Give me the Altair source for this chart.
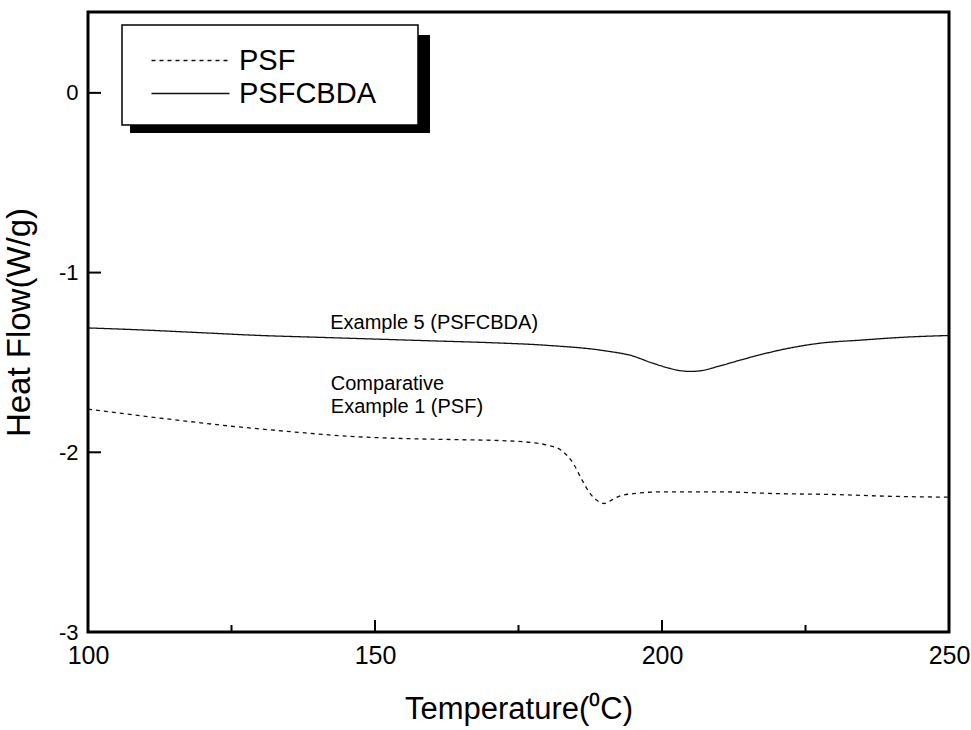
import altair as alt
import pandas as pd

# ---- data ----
psf_t = [100, 105, 110, 118, 125, 130, 137, 145, 150, 157, 165, 172, 177, 180,
         182.5, 184.5, 186, 187.5, 189, 190, 191, 192.5, 195, 200, 210, 220, 230, 240, 250]
psf_hf = [-1.76, -1.78, -1.80, -1.83, -1.855, -1.87, -1.89, -1.91, -1.918, -1.925,
          -1.93, -1.935, -1.945, -1.96, -1.99, -2.06, -2.15, -2.23, -2.275, -2.285,
          -2.27, -2.245, -2.23, -2.22, -2.22, -2.23, -2.235, -2.245, -2.25]

cbda_t = [100, 110, 120, 130, 140, 150, 160, 170, 180, 190, 195, 198, 201, 203,
          205, 207, 210, 215, 220, 227, 235, 242, 250]
cbda_hf = [-1.308, -1.32, -1.335, -1.35, -1.36, -1.37, -1.38, -1.39, -1.405, -1.435,
           -1.465, -1.50, -1.53, -1.545, -1.55, -1.545, -1.52, -1.475, -1.435, -1.395,
           -1.375, -1.36, -1.35]

series_names = ["PSF", "PSFCBDA"]

x_major = [150, 200]
x_minor = [125, 175, 225]
y_major = [0, -1, -2]

ann_text = ["Example 5 (PSFCBDA)", "Comparative", "Example 1 (PSF)"]
ann_x = [142.2, 142.3, 142.3]
ann_y = [-1.28, -1.62, -1.747]

# ---- build tables ----
rows = [{"T": t, "HF": v, "series": "PSF", "order": i} for i, (t, v) in enumerate(zip(psf_t, psf_hf))]
rows += [{"T": t, "HF": v, "series": "PSFCBDA", "order": i} for i, (t, v) in enumerate(zip(cbda_t, cbda_hf))]
df = pd.DataFrame(rows)

W, H = 861, 620
FONT = "Liberation Sans"

xscale = alt.Scale(domain=[100, 250], nice=False, zero=False)
yscale = alt.Scale(domain=[-3, 0.45], nice=False, zero=False)

lines = alt.Chart(df).mark_line(interpolate="monotone", strokeWidth=1.3, color="#111111").encode(
    x=alt.X("T:Q", scale=xscale,
            axis=alt.Axis(title="Temperature(\u2070C)", values=[100, 150, 200, 250],
                          labelExpr="'' + datum.value", labelFlush=False,
                          ticks=False, domain=False, grid=False, labelFontSize=25,
                          labelPadding=11, labelColor="black", labelFont=FONT,
                          titleFont=FONT, titleFontSize=31, titleFontWeight="normal",
                          titleColor="black", titlePadding=26)),
    y=alt.Y("HF:Q", scale=yscale,
            axis=alt.Axis(title="Heat Flow(W/g)", values=[0, -1, -2, -3],
                          labelExpr="'' + datum.value", labelFlush=False,
                          ticks=False, domain=False, grid=False, labelFontSize=22,
                          labelPadding=10, labelColor="black", labelFont=FONT,
                          titleFont=FONT, titleFontSize=33, titleFontWeight="normal",
                          titleColor="black", titlePadding=22)),
    strokeDash=alt.StrokeDash("series:N",
                              scale=alt.Scale(domain=series_names, range=[[4, 4], [1, 0]]),
                              legend=alt.Legend(title=None, orient="none", legendX=88, legendY=34,
                                                labelFontSize=29, labelFont=FONT, labelColor="black",
                                                symbolType="M-3,0H3", symbolSize=676,
                                                symbolStrokeWidth=1.3, symbolStrokeColor="#111111",
                                                labelOffset=34, rowPadding=3, padding=0)),
    order="order:Q",
)

xmaj = alt.Chart(pd.DataFrame({"T": x_major})).mark_rule(color="black", strokeWidth=2).encode(
    x=alt.X("T:Q", scale=xscale), y=alt.value(H), y2=alt.value(H - 12))
xmin = alt.Chart(pd.DataFrame({"T": x_minor})).mark_rule(color="black", strokeWidth=2).encode(
    x=alt.X("T:Q", scale=xscale), y=alt.value(H), y2=alt.value(H - 7))
ymaj = alt.Chart(pd.DataFrame({"HF": y_major})).mark_rule(color="black", strokeWidth=2).encode(
    y=alt.Y("HF:Q", scale=yscale), x=alt.value(0), x2=alt.value(13))

ann = alt.Chart(pd.DataFrame({"T": ann_x, "HF": ann_y, "txt": ann_text})).mark_text(
    align="left", baseline="middle", fontSize=20, font=FONT, color="black").encode(
    x=alt.X("T:Q", scale=xscale), y=alt.Y("HF:Q", scale=yscale), text="txt:N")

one = pd.DataFrame({"k": [0]})
shadow = alt.Chart(one).mark_rect(color="black").encode(
    x=alt.value(42), x2=alt.value(342), y=alt.value(23), y2=alt.value(121))
box = alt.Chart(one).mark_rect(fill="white", stroke="black", strokeWidth=1.5).encode(
    x=alt.value(34), x2=alt.value(330), y=alt.value(13), y2=alt.value(113))

chart = alt.layer(lines, xmaj, xmin, ymaj, ann, shadow, box).properties(
    width=W, height=H,
    autosize=alt.AutoSizeParams(type="none"),
    padding={"left": 88, "top": 12, "right": 22, "bottom": 98},
).configure(background="white").configure_view(stroke="black", strokeWidth=3)

chart.save("out.html", embed_options={"renderer": "svg", "actions": False})
